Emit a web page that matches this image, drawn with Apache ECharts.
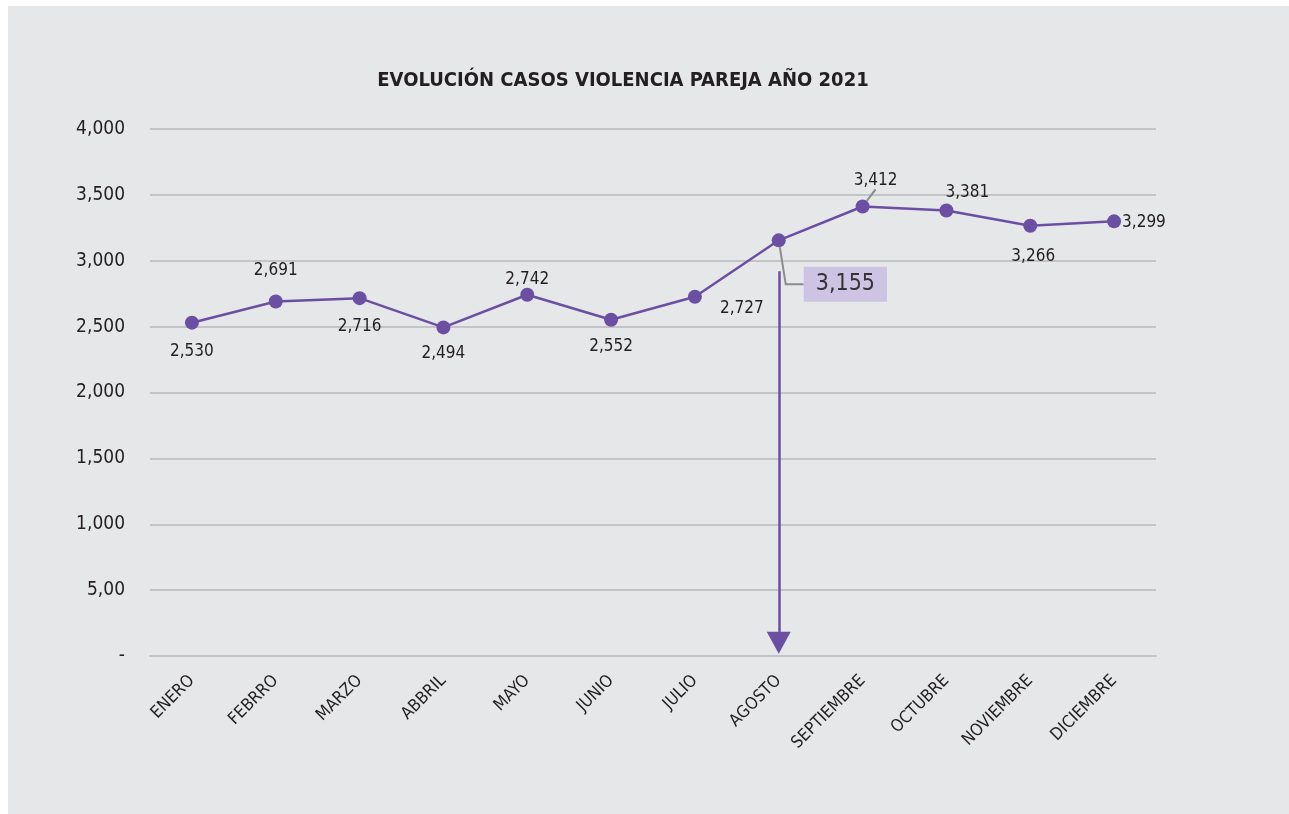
<!DOCTYPE html>
<html>
<head>
<meta charset="utf-8">
<title>Evolución casos violencia pareja 2021</title>
<script src="https://cdn.jsdelivr.net/npm/echarts@6/dist/echarts.min.js"></script>
<style>
    html, body { margin: 0; padding: 0; background: #ffffff; }
    #chart { position: absolute; left: 8px; top: 6px; width: 1281px; height: 808px; background: #e6e7e9; }
</style>
</head>
<body>
<div id="chart"></div>
<script>
var meses = ['ENERO', 'FEBRRO', 'MARZO', 'ABBRIL', 'MAYO', 'JUNIO', 'JULIO',
    'AGOSTO', 'SEPTIEMBRE', 'OCTUBRE', 'NOVIEMBRE', 'DICIEMBRE'];
var casos = [2530, 2691, 2716, 2494, 2742, 2552, 2727, 3155, 3412, 3381, 3266, 3299];
// posicion de cada etiqueta, como en el original
var posEtiqueta = ['bottom', 'top', 'bottom', 'bottom', 'top', 'bottom', 'bottom',
    'right', 'top', 'top', 'bottom', 'right'];
var yTicks = {0: '-', 500: '5,00', 1000: '1,000', 1500: '1,500', 2000: '2,000',
    2500: '2,500', 3000: '3,000', 3500: '3,500', 4000: '4,000'};
var mesFlecha = 'AGOSTO';

(function () {
    'use strict';

    var font = '"Liberation Sans Narrow", "DejaVu Sans Condensed", "Roboto", sans-serif';
    var morado = '#6b4fa3';

    var datos = casos.map(function (v, i) {
        var item = {
            value: v,
            label: {position: posEtiqueta[i]}
        };
        if (meses[i] === 'AGOSTO') {
            item.label = {
                position: 'right',
                fontSize: 23,
                color: '#333333',
                backgroundColor: '#cdc3e3',
                padding: [7, 12, 5, 12]
            };
            item.labelLine = {show: true, length2: 18, lineStyle: {color: '#8c8c8c', width: 2}};
        }
        if (meses[i] === 'SEPTIEMBRE') {
            item.labelLine = {show: true, lineStyle: {color: '#8c8c8c', width: 2}};
        }
        return item;
    });

    // desplazamientos de las etiquetas respecto al punto
    var desplaza = {
        0: [0, 3], 1: [0, -5], 2: [0, 3], 3: [0, 1], 4: [0, 10], 5: [0, 1],
        6: [47, -14], 7: [8, 44], 8: [13, 0], 9: [21, 8], 10: [3, 5], 11: [-9, 1]
    };

    var option = {
        backgroundColor: 'transparent',
        animation: false,
        title: {
            text: 'EVOLUCIÓN CASOS VIOLENCIA PAREJA AÑO 2021',
            left: 610,
            top: 60,
            textAlign: 'center',
            textStyle: {
                fontFamily: font,
                fontWeight: 'bold',
                fontSize: 20,
                color: '#231f20'
            }
        },
        grid: {
            left: 142,
            right: 133,
            top: 123,
            bottom: 158
        },
        xAxis: {
            type: 'category',
            data: meses,
            boundaryGap: true,
            axisLine: {show: true, lineStyle: {color: '#c4c4c6', width: 2}},
            axisTick: {show: false},
            axisLabel: {
                rotate: 45,
                margin: 22,
                fontFamily: font,
                fontSize: 17,
                color: '#231f20'
            }
        },
        yAxis: {
            type: 'value',
            min: 0,
            max: 4000,
            interval: 500,
            axisLine: {show: false},
            axisTick: {show: false},
            splitLine: {lineStyle: {color: '#c4c4c6', width: 2}},
            axisLabel: {
                margin: 25,
                fontFamily: font,
                fontSize: 19,
                color: '#231f20',
                formatter: function (v) {
                    return yTicks[v] !== undefined ? yTicks[v] : '';
                }
            }
        },
        series: [
            {
                type: 'line',
                data: datos,
                symbol: 'circle',
                symbolSize: 14,
                lineStyle: {color: morado, width: 2.5},
                itemStyle: {color: morado},
                label: {
                    show: true,
                    fontFamily: font,
                    fontSize: 17,
                    color: '#231f20',
                    distance: 10,
                    formatter: function (p) {
                        return p.value.toLocaleString('en-US');
                    }
                },
                labelLayout: function (p) {
                    var d = desplaza[p.dataIndex] || [0, 0];
                    return {dx: d[0], dy: d[1]};
                },
                markLine: {
                    silent: true,
                    symbol: ['none', 'triangle'],
                    symbolSize: [24, 22],
                    label: {show: false},
                    lineStyle: {color: morado, width: 2.5, type: 'solid'},
                    data: [
                        [
                            {coord: [mesFlecha, 2920]},
                            {coord: [mesFlecha, 100]}
                        ]
                    ]
                }
            }
        ]
    };

    var myChart = echarts.init(document.getElementById('chart'), null, {renderer: 'canvas'});
    myChart.setOption(option);
})();
</script>
</body>
</html>
